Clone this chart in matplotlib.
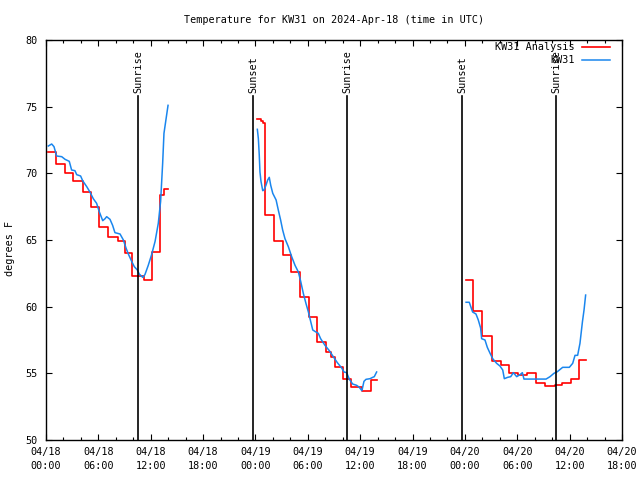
import numpy as np
import matplotlib
matplotlib.use("Agg")
import matplotlib.pyplot as plt
import matplotlib.dates as mdates

plt.rcParams['font.family'] = ['DejaVu Sans Mono']

BASE = np.datetime64('2024-04-18T00:00')

# hours since 04/18 00:00 UTC
red_h = [0.25, 1.1, 2.2, 3.1, 4.2, 5.1, 6.1, 7.1, 8.2, 9.0, 9.9, 11.2, 12.1, 13.05, 13.55, 13.95, np.nan,
         24.2, 24.6, 24.85, 25.05, 26.15, 27.15, 28.1, 29.1, 30.1, 31.1, 32.1, 32.7, 33.1, 34.05, 35.0, 36.25, 37.2, 37.9, np.nan,
         48.13, 48.95, 50.0, 51.1, 52.1, 53.1, 54.1, 55.15, 56.1, 57.2, 58.3, 59.15, 60.1, 61.1, 61.85]
red_t = [71.6, 70.7, 70.0, 69.4, 68.6, 67.5, 66.0, 65.2, 64.9, 64.0, 62.3, 62.0, 64.1, 68.4, 68.8, 68.8, np.nan,
         74.05, 73.95, 73.8, 66.9, 64.9, 63.85, 62.6, 60.7, 59.2, 57.35, 56.6, 56.25, 55.5, 54.55, 53.95, 53.65, 54.5, 54.5, np.nan,
         62.0, 59.65, 57.8, 55.9, 55.6, 55.0, 54.87, 55.0, 54.25, 54.05, 54.1, 54.25, 54.55, 56.0, 56.0]

blue_h = [0.27, 0.65, 0.92, 1.22, 1.8, 2.18, 2.67, 2.94, 3.32, 3.51, 3.97, 4.2, 4.66, 5.04, 5.42, 5.8, 6.11, 6.5,
          6.76, 6.95, 7.33, 7.64, 7.9, 8.48, 8.86, 9.17, 9.43, 9.82, 10.12, 10.46, 10.69, 11.08, 11.34, 11.72,
          12.1, 12.5, 12.87, 13.14, 13.37, 13.52, 13.98, np.nan,
          24.21, 24.33, 24.44, 24.52, 24.64, 24.83, 24.98, 25.2, 25.4, 25.59, 25.75, 25.98, 26.36, 26.62, 26.89,
          27.12, 27.39, 27.77, 28.15, 28.53, 28.91, 29.18, 29.49, 29.79, 30.06, 30.25, 30.56, 30.94, 31.2, 31.47,
          31.97, 32.46, 32.92, 33.38, 33.88, 34.15, 34.45, 34.76, 35.14, 35.6, 35.9, 36.2, 36.44, 36.67, 37.13,
          37.44, 37.62, 37.89, np.nan,
          48.13, 48.5, 48.89, 49.27, 49.54, 49.8, 49.92, 50.3, 50.57, 50.88, 51.18, 51.64, 52.02, 52.33, 52.52,
          52.9, 53.25, 53.55, 53.93, 54.31, 54.58, 54.77, 55.46, 57.3, 57.75, 58.2, 58.59, 59.2, 59.96, 60.35,
          60.62, 60.92, 61.19, 61.46, 61.65, 61.84]
blue_t = [72.05, 72.2, 72.0, 71.3, 71.25, 71.05, 70.9, 70.25, 70.2, 69.9, 69.8, 69.45, 69.0, 68.6, 68.1, 67.75, 67.1, 66.45,
          66.6, 66.75, 66.55, 66.1, 65.55, 65.45, 65.0, 64.4, 63.95, 63.4, 63.0, 62.75, 62.45, 62.2, 62.4, 63.1,
          63.9, 64.9, 66.25, 67.9, 70.75, 73.0, 75.1, np.nan,
          73.3, 72.6, 71.4, 70.1, 69.4, 68.7, 68.75, 69.1, 69.5, 69.7, 69.1, 68.5, 68.0, 67.25, 66.5,
          65.75, 65.1, 64.5, 63.75, 63.1, 62.6, 61.9, 61.0, 60.25, 59.6, 59.1, 58.25, 58.1, 58.0, 57.6,
          57.1, 56.7, 56.25, 55.8, 55.4, 55.1, 55.05, 54.55, 54.2, 54.1, 53.95, 53.7, 54.4, 54.55, 54.6,
          54.7, 54.75, 55.1, np.nan,
          60.33, 60.33, 59.6, 59.45, 59.0, 58.4, 57.6, 57.5, 56.95, 56.5, 56.1, 55.75, 55.55, 55.25, 54.6,
          54.7, 54.75, 55.05, 54.75, 54.9, 55.05, 54.57, 54.57, 54.57, 54.75, 55.0, 55.12, 55.45, 55.45, 55.75,
          56.35, 56.35, 57.25, 58.87, 59.75, 60.87]

event_h = [10.54, 23.72, 34.49, 47.67, 58.44]
event_lbl = ['Sunrise', 'Sunset', 'Sunrise', 'Sunset', 'Sunrise']

series_labels = ['KW31 Analysis', 'KW31']
title = 'Temperature for KW31 on 2024-Apr-18 (time in UTC)'
ylabel = 'degrees F'
y_ticks = [50, 55, 60, 65, 70, 75, 80]


def to_dt(hours):
    out = []
    for h in hours:
        if np.isnan(h):
            out.append(np.datetime64('NaT'))
        else:
            out.append(BASE + np.timedelta64(int(round(h * 60)), 'm'))
    return np.array(out, dtype='datetime64[m]')


fig = plt.figure(figsize=(6.4, 4.8), dpi=100)
ax = fig.add_axes([46 / 640, 40 / 480, 576 / 640, 400 / 480])

fs = 7.3
for h, lbl in zip(event_h, event_lbl):
    t = to_dt([h])[0]
    ax.plot([t, t], [50, 75.8], color='black', lw=1.2, zorder=3)
    ax.text(t, 76.05, lbl, rotation=90, ha='center', va='bottom', fontsize=fs, zorder=4)

rt = to_dt(red_h)
bt = to_dt(blue_h)
ax.plot(rt, red_t, color='#ff0000', lw=1.2, drawstyle='steps-post', label=series_labels[0], zorder=2)
ax.plot(bt, blue_t, color='#1a86ee', lw=1.1, label=series_labels[1], zorder=2.5)

ax.set_xlim(BASE, BASE + np.timedelta64(66, 'h'))
ax.set_ylim(50, 80)
ax.set_yticks(y_ticks)
ax.xaxis.set_major_locator(mdates.HourLocator(byhour=[0, 6, 12, 18]))
ax.xaxis.set_minor_locator(mdates.HourLocator(byhour=range(0, 24, 2)))
ax.xaxis.set_major_formatter(mdates.DateFormatter('%m/%d\n%H:%M'))

ax.tick_params(axis='both', which='both', direction='in', top=True, right=True, labelsize=fs, color='black')
ax.tick_params(axis='both', which='major', length=4.5, width=0.8)
ax.tick_params(axis='x', which='minor', length=2.5, width=0.8)
ax.tick_params(axis='x', which='major', pad=5)
ax.tick_params(axis='y', which='major', pad=6)
for lab in ax.get_xticklabels():
    lab.set_linespacing(1.45)
for s in ax.spines.values():
    s.set_linewidth(1.0)
    s.set_color('black')

ax.set_ylabel(ylabel, fontsize=fs)
ax.yaxis.set_label_coords(-0.053, 0.48)

fig.text(334 / 640, 1 - 20 / 480, title, ha='center', va='center', fontsize=fs)

leg = ax.legend(loc='upper right', bbox_to_anchor=(0.979, 0.994), markerfirst=False, frameon=False,
                fontsize=fs, handlelength=2.8, handletextpad=0.7, labelspacing=0.3,
                borderpad=0, borderaxespad=0)
leg.set_zorder(5)

fig.savefig('out.png', dpi=100)
